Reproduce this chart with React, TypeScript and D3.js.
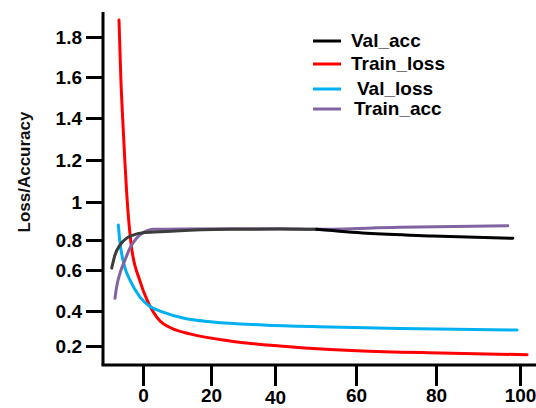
import { useEffect, useRef } from 'react';
import * as d3 from 'd3';

// [epoch, value] pairs
const trainLoss = [
  [-7.06, 1.885], [-6.53, 1.6], [-6.0, 1.405], [-5.35, 1.2], [-4.85, 1.057],
  [-3.47, 0.767], [-0.88, 0.546], [1.18, 0.454], [2.94, 0.397], [5.0, 0.343],
  [7.94, 0.306], [13.8, 0.269], [25.9, 0.229], [41.2, 0.2], [53.6, 0.18],
  [60.25, 0.173], [81, 0.16], [101.7, 0.15]
];

const valLoss = [
  [-7.26, 0.879], [-6.76, 0.78], [-6.03, 0.68], [-5.29, 0.613], [-3.82, 0.551],
  [-0.88, 0.468], [2.06, 0.422], [5.88, 0.394], [11.8, 0.36], [20.6, 0.337],
  [36.25, 0.32], [53.6, 0.309], [71, 0.3], [99.3, 0.291]
];

const valAcc = [
  [-9.2, 0.613], [-8.24, 0.7], [-6.76, 0.767], [-4.8, 0.81], [-2.94, 0.826],
  [0, 0.838], [5, 0.843], [10.9, 0.849], [25.9, 0.856], [41.2, 0.858],
  [50.3, 0.856], [62.7, 0.835], [79.25, 0.821], [98.3, 0.809]
];

const trainAcc = [
  [-8.24, 0.462], [-7.74, 0.519], [-6.76, 0.585], [-5.29, 0.667], [-3.82, 0.747],
  [-1.85, 0.811], [0.59, 0.844], [2.94, 0.856], [10.9, 0.858], [41.2, 0.859],
  [49.9, 0.856], [71, 0.867], [97.1, 0.875]
];

const yTicks = [0.2, 0.4, 0.6, 0.8, 1, 1.2, 1.4, 1.6, 1.8];
const xTicks = [0, 20, 40, 60, 80, 100];
const legendNames = ['Val_acc', 'Train_loss', 'Val_loss', 'Train_acc'];
const legendColors = ['#000000', '#ff0000', '#00b0f0', '#8064a2'];

const FONT = '"Liberation Sans", Arial, sans-serif';

export default function App() {
  const svgRef = useRef<SVGSVGElement | null>(null);

  useEffect(() => {
    if (!svgRef.current) return;
    const svg = d3.select(svgRef.current);
    svg.selectAll('*').remove();

    // the original axes are hand-spaced, so map each tick to its own pixel
    const y = d3.scaleLinear()
      .domain(yTicks)
      .range([346, 311, 270, 240, 202, 160, 118, 77, 37]);
    const x = d3.scaleLinear()
      .domain(xTicks)
      .range([143, 211, 275, 356, 436, 520]);

    const axisX = 103;
    const axisY = 365;

    // y axis
    const gy = svg.append('g')
      .attr('transform', `translate(${axisX},0)`)
      .call(d3.axisLeft(y).tickValues(yTicks).tickSize(17).tickPadding(4)
        .tickFormat(d => String(d)));
    gy.select('.domain').remove();
    gy.selectAll('line').attr('stroke', '#000').attr('stroke-width', 3);
    gy.selectAll('text')
      .attr('fill', '#000')
      .style('font-family', FONT)
      .style('font-weight', 'bold')
      .style('font-size', '19px');

    // x axis
    const gx = svg.append('g')
      .attr('transform', `translate(0,${axisY})`)
      .call(d3.axisBottom(x).tickValues(xTicks).tickSize(21).tickPadding(3)
        .tickFormat(d => String(d)));
    gx.select('.domain').remove();
    gx.selectAll('line').attr('stroke', '#000').attr('stroke-width', 3);
    gx.selectAll('text')
      .attr('fill', '#000')
      .attr('dy', (d: any) => (d === 40 ? '0.78em' : '0.71em'))
      .style('font-family', FONT)
      .style('font-weight', 'bold')
      .style('font-size', '19px');

    // axis lines
    svg.append('line')
      .attr('x1', axisX).attr('x2', axisX).attr('y1', 12).attr('y2', axisY)
      .attr('stroke', '#000').attr('stroke-width', 3);
    svg.append('line')
      .attr('x1', axisX - 1.5).attr('x2', 536).attr('y1', axisY).attr('y2', axisY)
      .attr('stroke', '#000').attr('stroke-width', 3);

    // y label
    svg.append('text')
      .attr('transform', `translate(30,172) rotate(-90)`)
      .attr('text-anchor', 'middle')
      .style('font-family', FONT)
      .style('font-weight', 'bold')
      .style('font-size', '17px')
      .attr('fill', '#111')
      .text('Loss/Accuracy');

    const line = d3.line<number[]>()
      .x(d => x(d[0]))
      .y(d => y(d[1]))
      .curve(d3.curveMonotoneX);

    const drawLine = (data: number[][], color: string) => {
      svg.append('path')
        .datum(data)
        .attr('fill', 'none')
        .attr('stroke', color)
        .attr('stroke-width', 3)
        .attr('stroke-linecap', 'round')
        .attr('d', line);
    };

    drawLine(trainLoss, legendColors[1]);
    drawLine(valLoss, legendColors[2]);
    drawLine(trainAcc, legendColors[3]);
    // val_acc is grey where it overlaps train_acc, black after
    drawLine(valAcc.filter(d => d[0] <= 50.3), '#3c3c3c');
    drawLine(valAcc.filter(d => d[0] >= 50.3), '#000000');

    // legend
    const legendLineY = [41, 64, 89, 109];
    const legendTextX = [351, 351, 357, 354];
    const legendTextY = [47, 70, 95, 115];
    legendNames.forEach((name, i) => {
      svg.append('line')
        .attr('x1', 313).attr('x2', 341)
        .attr('y1', legendLineY[i]).attr('y2', legendLineY[i])
        .attr('stroke', legendColors[i]).attr('stroke-width', 3);
      svg.append('text')
        .attr('x', legendTextX[i]).attr('y', legendTextY[i])
        .style('font-family', FONT)
        .style('font-weight', 'bold')
        .style('font-size', '19px')
        .attr('fill', '#000')
        .text(name);
    });
  }, []);

  return (
    <svg ref={svgRef} width={536} height={408}
      style={{ position: 'absolute', left: 0, top: 0, background: '#fff' }} />
  );
}
